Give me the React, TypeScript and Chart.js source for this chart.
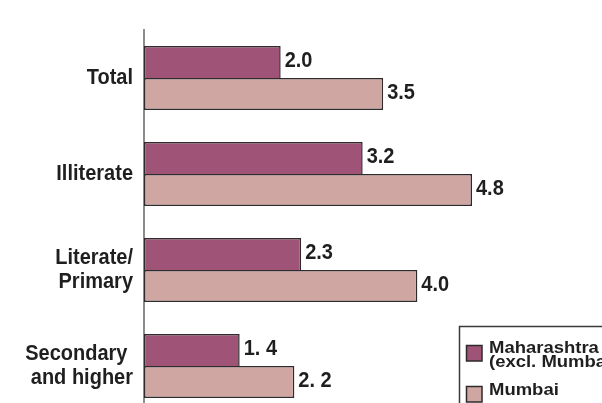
import React, { useEffect, useRef } from "react";
import { Chart, registerables } from "chart.js";

Chart.register(...registerables);

// Categories (multi-line labels as arrays)
const categories: (string | string[])[] = [
  "Total",
  "Illiterate",
  ["Literate/", "Primary"],
  ["Secondary ", "and higher"],
];

// Series values
const mahaValues = [2.0, 3.2, 2.3, 1.4];
const mumbaiValues = [3.5, 4.8, 4.0, 2.2];

// Rows whose value labels are typeset with a gap after the decimal point
const looseDecimalRows = [false, false, false, true];

const seriesNames = ["Maharashtra", "Mumbai"];
const mahaLegendLines = ["Maharashtra", "(excl. Mumbai)"];

const MAHA_FILL = "#9e5377";
const MUMBAI_FILL = "#d0a6a3";
const EDGE = "#2e2a2c";
const TEXT = "#1f1f1f";
const FONT = "'Liberation Sans', Arial, Helvetica, sans-serif";

function formatValue(v: number, row: number): string {
  const s = v.toFixed(1);
  return looseDecimalRows[row] ? s.replace(".", ". ") : s;
}

// Draws text with a non-uniform scale (the chart's lettering is slightly tall,
// the legend's slightly wide)
function scaledText(
  ctx: CanvasRenderingContext2D,
  text: string,
  x: number,
  y: number,
  sx: number,
  sy: number
) {
  ctx.save();
  ctx.translate(x, y);
  ctx.scale(sx, sy);
  ctx.fillText(text, 0, 0);
  ctx.restore();
}

// Category names beside the y axis, placed from the category scale
const categoryLabelPlugin = {
  id: "categoryLabels",
  afterDraw(chart: any) {
    const ctx = chart.ctx;
    const yScale = chart.scales.y;
    const lineHeight = 24;
    ctx.save();
    ctx.font = `bold 20px ${FONT}`;
    ctx.fillStyle = TEXT;
    ctx.textAlign = "right";
    ctx.textBaseline = "middle";
    const labels = chart.data.labels as (string | string[])[];
    labels.forEach((label, i) => {
      const lines = Array.isArray(label) ? label : [label];
      const yc = yScale.getPixelForTick(i);
      const y0 = yc - ((lines.length - 1) * lineHeight) / 2;
      lines.forEach((line, li) => {
        scaledText(ctx, line, yScale.right - 11, y0 + li * lineHeight, 1, 1.1);
      });
    });
    ctx.restore();
  },
};

const valueLabelPlugin = {
  id: "valueLabels",
  afterDatasetsDraw(chart: any) {
    const ctx = chart.ctx;
    ctx.save();
    ctx.font = `bold 20px ${FONT}`;
    ctx.fillStyle = TEXT;
    ctx.textAlign = "left";
    ctx.textBaseline = "middle";
    chart.data.datasets.forEach((ds: any, di: number) => {
      const meta = chart.getDatasetMeta(di);
      meta.data.forEach((bar: any, i: number) => {
        scaledText(ctx, formatValue(ds.data[i], i), bar.x + 4, bar.y - 1, 1, 1.1);
      });
    });
    ctx.restore();
  },
};

const boxLegendPlugin = {
  id: "boxLegend",
  afterDraw(chart: any) {
    const ctx = chart.ctx;
    ctx.save();
    // frame
    ctx.strokeStyle = "#3a3a3a";
    ctx.lineWidth = 1.5;
    ctx.strokeRect(459.5, 326.5, 220, 120);
    // swatches
    const swatches = [
      { fill: MAHA_FILL, y: 345 },
      { fill: MUMBAI_FILL, y: 386 },
    ];
    swatches.forEach((s) => {
      ctx.fillStyle = s.fill;
      ctx.fillRect(466, s.y, 16, 16);
      ctx.strokeStyle = EDGE;
      ctx.lineWidth = 1.5;
      ctx.strokeRect(466.5, s.y + 0.5, 15.5, 15.5);
    });
    ctx.font = `bold 16.5px ${FONT}`;
    ctx.fillStyle = TEXT;
    ctx.textAlign = "left";
    ctx.textBaseline = "alphabetic";
    scaledText(ctx, mahaLegendLines[0], 489, 353, 1.12, 1);
    scaledText(ctx, mahaLegendLines[1], 489, 367, 1.12, 1);
    scaledText(ctx, seriesNames[1], 489, 395, 1.12, 1);
    ctx.restore();
  },
};

export default function App() {
  const canvasRef = useRef<HTMLCanvasElement | null>(null);

  useEffect(() => {
    if (!canvasRef.current) return;
    const chart = new Chart(canvasRef.current, {
      type: "bar",
      data: {
        labels: categories,
        datasets: [
          {
            label: seriesNames[0],
            data: mahaValues,
            backgroundColor: MAHA_FILL,
            borderColor: EDGE,
            borderWidth: { top: 1.5, right: 1.5, bottom: 0, left: 1.5 },
            borderSkipped: false,
            categoryPercentage: 0.667,
            barPercentage: 1,
          },
          {
            label: seriesNames[1],
            data: mumbaiValues,
            backgroundColor: MUMBAI_FILL,
            borderColor: EDGE,
            borderWidth: 1.5,
            borderSkipped: false,
            categoryPercentage: 0.667,
            barPercentage: 1,
          },
        ],
      },
      options: {
        indexAxis: "y",
        animation: false,
        responsive: false,
        devicePixelRatio: 1,
        layout: { padding: { top: 30, bottom: 6, left: 0, right: 48 } },
        plugins: {
          legend: { display: false },
          tooltip: { enabled: false },
        },
        scales: {
          x: { display: false, min: 0, max: 6 },
          y: {
            grid: { display: false, drawTicks: false },
            border: { display: true, color: "#8c8c8c", width: 2 },
            ticks: { display: false },
            afterFit(scale: any) {
              scale.width = 144;
              scale.paddingTop = 0;
              scale.paddingBottom = 0;
            },
          },
        },
      },
      plugins: [valueLabelPlugin, categoryLabelPlugin, boxLegendPlugin],
    } as any);
    return () => chart.destroy();
  }, []);

  return (
    <div
      style={{
        position: "fixed",
        left: 0,
        top: 0,
        width: 602,
        height: 403,
        overflow: "hidden",
        background: "#fff",
      }}
    >
      <canvas ref={canvasRef} width={602} height={420} style={{ display: "block" }} />
    </div>
  );
}
